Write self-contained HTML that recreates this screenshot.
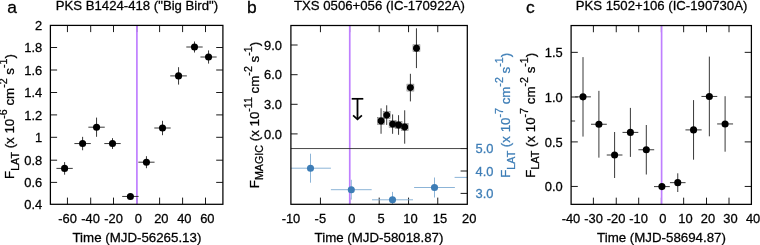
<!DOCTYPE html>
<html lang="en"><head><meta charset="utf-8"><title>Figure</title>
<style>
html,body{margin:0;padding:0;background:#fff;}
body{width:760px;height:245px;overflow:hidden;}
svg{display:block;font-family:'Liberation Sans', Arial, Helvetica, sans-serif;}
text{stroke-width:0.27px;paint-order:stroke fill;}
</style></head><body>
<svg width="760" height="245" viewBox="0 0 760 245">
<rect x="0" y="0" width="760" height="245" fill="#fff"/>
<defs>
<clipPath id="ca"><rect x="50.4" y="25.4" width="172.50" height="178.90"/></clipPath>
<clipPath id="cb"><rect x="290.9" y="25.5" width="176.40" height="178.80"/></clipPath>
<clipPath id="cc"><rect x="571.1" y="25.55" width="180.30" height="178.80"/></clipPath>
</defs>
<line x1="67.45" y1="204.30" x2="67.45" y2="197.60" stroke="#000" stroke-width="0.9" />
<line x1="67.45" y1="25.40" x2="67.45" y2="32.10" stroke="#000" stroke-width="0.9" />
<text x="67.55" y="222.50" font-size="12.9" text-anchor="middle" fill="#000" stroke="#000" >-60</text>
<line x1="90.70" y1="204.30" x2="90.70" y2="197.60" stroke="#000" stroke-width="0.9" />
<line x1="90.70" y1="25.40" x2="90.70" y2="32.10" stroke="#000" stroke-width="0.9" />
<text x="90.55" y="222.50" font-size="12.9" text-anchor="middle" fill="#000" stroke="#000" >-40</text>
<line x1="113.50" y1="204.30" x2="113.50" y2="197.60" stroke="#000" stroke-width="0.9" />
<line x1="113.50" y1="25.40" x2="113.50" y2="32.10" stroke="#000" stroke-width="0.9" />
<text x="113.55" y="222.50" font-size="12.9" text-anchor="middle" fill="#000" stroke="#000" >-20</text>
<line x1="136.90" y1="204.30" x2="136.90" y2="197.60" stroke="#000" stroke-width="0.9" />
<line x1="136.90" y1="25.40" x2="136.90" y2="32.10" stroke="#000" stroke-width="0.9" />
<text x="138.30" y="222.50" font-size="12.9" text-anchor="middle" fill="#000" stroke="#000" >0</text>
<line x1="159.60" y1="204.30" x2="159.60" y2="197.60" stroke="#000" stroke-width="0.9" />
<line x1="159.60" y1="25.40" x2="159.60" y2="32.10" stroke="#000" stroke-width="0.9" />
<text x="161.30" y="222.50" font-size="12.9" text-anchor="middle" fill="#000" stroke="#000" >20</text>
<line x1="182.60" y1="204.30" x2="182.60" y2="197.60" stroke="#000" stroke-width="0.9" />
<line x1="182.60" y1="25.40" x2="182.60" y2="32.10" stroke="#000" stroke-width="0.9" />
<text x="184.30" y="222.50" font-size="12.9" text-anchor="middle" fill="#000" stroke="#000" >40</text>
<line x1="205.50" y1="204.30" x2="205.50" y2="197.60" stroke="#000" stroke-width="0.9" />
<line x1="205.50" y1="25.40" x2="205.50" y2="32.10" stroke="#000" stroke-width="0.9" />
<text x="207.30" y="222.50" font-size="12.9" text-anchor="middle" fill="#000" stroke="#000" >60</text>
<text x="42.20" y="208.92" font-size="12.9" text-anchor="end" fill="#000" stroke="#000" >0.4</text>
<line x1="50.40" y1="182.40" x2="57.10" y2="182.40" stroke="#000" stroke-width="0.9" />
<line x1="222.90" y1="182.40" x2="216.20" y2="182.40" stroke="#000" stroke-width="0.9" />
<text x="42.20" y="187.02" font-size="12.9" text-anchor="end" fill="#000" stroke="#000" >0.6</text>
<line x1="50.40" y1="160.20" x2="57.10" y2="160.20" stroke="#000" stroke-width="0.9" />
<line x1="222.90" y1="160.20" x2="216.20" y2="160.20" stroke="#000" stroke-width="0.9" />
<text x="42.20" y="164.82" font-size="12.9" text-anchor="end" fill="#000" stroke="#000" >0.8</text>
<line x1="50.40" y1="137.30" x2="57.10" y2="137.30" stroke="#000" stroke-width="0.9" />
<line x1="222.90" y1="137.30" x2="216.20" y2="137.30" stroke="#000" stroke-width="0.9" />
<text x="42.20" y="141.92" font-size="12.9" text-anchor="end" fill="#000" stroke="#000" >1</text>
<line x1="50.40" y1="114.90" x2="57.10" y2="114.90" stroke="#000" stroke-width="0.9" />
<line x1="222.90" y1="114.90" x2="216.20" y2="114.90" stroke="#000" stroke-width="0.9" />
<text x="42.20" y="119.52" font-size="12.9" text-anchor="end" fill="#000" stroke="#000" >1.2</text>
<line x1="50.40" y1="92.50" x2="57.10" y2="92.50" stroke="#000" stroke-width="0.9" />
<line x1="222.90" y1="92.50" x2="216.20" y2="92.50" stroke="#000" stroke-width="0.9" />
<text x="42.20" y="97.12" font-size="12.9" text-anchor="end" fill="#000" stroke="#000" >1.4</text>
<line x1="50.40" y1="70.00" x2="57.10" y2="70.00" stroke="#000" stroke-width="0.9" />
<line x1="222.90" y1="70.00" x2="216.20" y2="70.00" stroke="#000" stroke-width="0.9" />
<text x="42.20" y="74.62" font-size="12.9" text-anchor="end" fill="#000" stroke="#000" >1.6</text>
<line x1="50.40" y1="47.50" x2="57.10" y2="47.50" stroke="#000" stroke-width="0.9" />
<line x1="222.90" y1="47.50" x2="216.20" y2="47.50" stroke="#000" stroke-width="0.9" />
<text x="42.20" y="52.12" font-size="12.9" text-anchor="end" fill="#000" stroke="#000" >1.8</text>
<text x="42.20" y="30.02" font-size="12.9" text-anchor="end" fill="#000" stroke="#000" >2</text>
<line x1="136.90" y1="25.40" x2="136.90" y2="204.30" stroke="#bf7fff" stroke-width="1.7" />
<g clip-path="url(#ca)">
<line x1="56.45" y1="168.40" x2="72.75" y2="168.40" stroke="#222" stroke-width="0.9" />
<line x1="64.60" y1="162.10" x2="64.60" y2="174.70" stroke="#222" stroke-width="0.9" />
<circle cx="64.60" cy="168.40" r="3.55" fill="#000"/>
</g>
<g clip-path="url(#ca)">
<line x1="74.40" y1="143.55" x2="90.80" y2="143.55" stroke="#222" stroke-width="0.9" />
<line x1="82.60" y1="136.85" x2="82.60" y2="150.25" stroke="#222" stroke-width="0.9" />
<circle cx="82.60" cy="143.55" r="3.55" fill="#000"/>
</g>
<g clip-path="url(#ca)">
<line x1="88.35" y1="127.20" x2="104.75" y2="127.20" stroke="#222" stroke-width="0.9" />
<line x1="96.55" y1="117.60" x2="96.55" y2="136.80" stroke="#222" stroke-width="0.9" />
<circle cx="96.55" cy="127.20" r="3.55" fill="#000"/>
</g>
<g clip-path="url(#ca)">
<line x1="104.30" y1="143.55" x2="120.70" y2="143.55" stroke="#222" stroke-width="0.9" />
<line x1="112.50" y1="138.15" x2="112.50" y2="148.95" stroke="#222" stroke-width="0.9" />
<circle cx="112.50" cy="143.55" r="3.55" fill="#000"/>
</g>
<g clip-path="url(#ca)">
<line x1="122.20" y1="196.45" x2="138.60" y2="196.45" stroke="#222" stroke-width="0.9" />
<circle cx="130.40" cy="196.45" r="3.55" fill="#000"/>
</g>
<g clip-path="url(#ca)">
<line x1="138.35" y1="162.20" x2="154.55" y2="162.20" stroke="#222" stroke-width="0.9" />
<line x1="146.45" y1="156.20" x2="146.45" y2="168.20" stroke="#222" stroke-width="0.9" />
<circle cx="146.45" cy="162.20" r="3.55" fill="#000"/>
</g>
<g clip-path="url(#ca)">
<line x1="154.30" y1="128.00" x2="170.70" y2="128.00" stroke="#222" stroke-width="0.9" />
<line x1="162.50" y1="120.80" x2="162.50" y2="135.20" stroke="#222" stroke-width="0.9" />
<circle cx="162.50" cy="128.00" r="3.55" fill="#000"/>
</g>
<g clip-path="url(#ca)">
<line x1="170.25" y1="75.90" x2="186.85" y2="75.90" stroke="#222" stroke-width="0.9" />
<line x1="178.55" y1="67.20" x2="178.55" y2="84.60" stroke="#222" stroke-width="0.9" />
<circle cx="178.55" cy="75.90" r="3.55" fill="#000"/>
</g>
<g clip-path="url(#ca)">
<line x1="186.30" y1="47.00" x2="202.70" y2="47.00" stroke="#222" stroke-width="0.9" />
<line x1="194.50" y1="41.50" x2="194.50" y2="52.50" stroke="#222" stroke-width="0.9" />
<circle cx="194.50" cy="47.00" r="3.55" fill="#000"/>
</g>
<g clip-path="url(#ca)">
<line x1="200.45" y1="57.00" x2="216.65" y2="57.00" stroke="#222" stroke-width="0.9" />
<line x1="208.55" y1="50.40" x2="208.55" y2="63.60" stroke="#222" stroke-width="0.9" />
<circle cx="208.55" cy="57.00" r="3.55" fill="#000"/>
</g>
<rect x="50.40" y="25.40" width="172.50" height="178.90" fill="none" stroke="#000" stroke-width="1.25"/>
<text x="136.90" y="9.90" font-size="13.18" text-anchor="middle" fill="#000" stroke="#000" >PKS B1424-418 ("Big Bird")</text>
<text x="136.90" y="241.70" font-size="13.3" text-anchor="middle" fill="#000" stroke="#000" >Time (MJD-56265.13)</text>
<text x="7.20" y="13.30" font-size="17.4" text-anchor="start" fill="#000" stroke="#000" >a</text>
<text transform="translate(14.30,116.50) rotate(-90)" font-size="13.3" text-anchor="middle" fill="#000" stroke="#000">F<tspan font-size="10.7" dy="4.20">LAT</tspan><tspan dy="-4.20"> (x 10</tspan><tspan font-size="10.7" dy="-7.00">-6</tspan><tspan dy="7.00"> cm</tspan><tspan font-size="10.7" dy="-7.00">-2</tspan><tspan dy="7.00"> s</tspan><tspan font-size="10.7" dy="-7.00">-1</tspan><tspan dy="7.00">)</tspan></text>
<text x="290.97" y="222.50" font-size="12.9" text-anchor="middle" fill="#000" stroke="#000" >-10</text>
<line x1="320.45" y1="204.30" x2="320.45" y2="197.60" stroke="#000" stroke-width="0.9" />
<line x1="320.45" y1="25.50" x2="320.45" y2="32.20" stroke="#000" stroke-width="0.9" />
<text x="320.34" y="222.50" font-size="12.9" text-anchor="middle" fill="#000" stroke="#000" >-5</text>
<line x1="349.70" y1="204.30" x2="349.70" y2="197.60" stroke="#000" stroke-width="0.9" />
<line x1="349.70" y1="25.50" x2="349.70" y2="32.20" stroke="#000" stroke-width="0.9" />
<text x="351.80" y="222.50" font-size="12.9" text-anchor="middle" fill="#000" stroke="#000" >0</text>
<line x1="379.20" y1="204.30" x2="379.20" y2="197.60" stroke="#000" stroke-width="0.9" />
<line x1="379.20" y1="25.50" x2="379.20" y2="32.20" stroke="#000" stroke-width="0.9" />
<text x="381.17" y="222.50" font-size="12.9" text-anchor="middle" fill="#000" stroke="#000" >5</text>
<line x1="408.55" y1="204.30" x2="408.55" y2="197.60" stroke="#000" stroke-width="0.9" />
<line x1="408.55" y1="25.50" x2="408.55" y2="32.20" stroke="#000" stroke-width="0.9" />
<text x="410.53" y="222.50" font-size="12.9" text-anchor="middle" fill="#000" stroke="#000" >10</text>
<line x1="437.75" y1="204.30" x2="437.75" y2="197.60" stroke="#000" stroke-width="0.9" />
<line x1="437.75" y1="25.50" x2="437.75" y2="32.20" stroke="#000" stroke-width="0.9" />
<text x="439.90" y="222.50" font-size="12.9" text-anchor="middle" fill="#000" stroke="#000" >15</text>
<text x="469.26" y="222.50" font-size="12.9" text-anchor="middle" fill="#000" stroke="#000" >20</text>
<line x1="290.90" y1="133.90" x2="297.60" y2="133.90" stroke="#000" stroke-width="0.9" />
<text x="281.90" y="138.52" font-size="12.9" text-anchor="end" fill="#000" stroke="#000" >0.0</text>
<line x1="290.90" y1="104.30" x2="297.60" y2="104.30" stroke="#000" stroke-width="0.9" />
<text x="281.90" y="108.92" font-size="12.9" text-anchor="end" fill="#000" stroke="#000" >3.0</text>
<line x1="290.90" y1="74.70" x2="297.60" y2="74.70" stroke="#000" stroke-width="0.9" />
<text x="281.90" y="79.32" font-size="12.9" text-anchor="end" fill="#000" stroke="#000" >6.0</text>
<line x1="290.90" y1="45.00" x2="297.60" y2="45.00" stroke="#000" stroke-width="0.9" />
<text x="281.90" y="49.62" font-size="12.9" text-anchor="end" fill="#000" stroke="#000" >9.0</text>
<line x1="467.30" y1="148.55" x2="460.60" y2="148.55" stroke="#000" stroke-width="0.9" />
<text x="475.60" y="153.17" font-size="12.9" text-anchor="start" fill="#3d7db6" stroke="#3d7db6" >5.0</text>
<line x1="467.30" y1="171.00" x2="460.60" y2="171.00" stroke="#000" stroke-width="0.9" />
<text x="475.60" y="175.62" font-size="12.9" text-anchor="start" fill="#3d7db6" stroke="#3d7db6" >4.0</text>
<line x1="467.30" y1="193.40" x2="460.60" y2="193.40" stroke="#000" stroke-width="0.9" />
<text x="475.60" y="198.02" font-size="12.9" text-anchor="start" fill="#3d7db6" stroke="#3d7db6" >3.0</text>
<line x1="349.75" y1="25.50" x2="349.75" y2="204.30" stroke="#bf7fff" stroke-width="1.7" />
<g clip-path="url(#cb)">
<line x1="290.10" y1="168.20" x2="330.90" y2="168.20" stroke="#7fabd3" stroke-width="0.9" />
<line x1="310.50" y1="153.70" x2="310.50" y2="182.70" stroke="#7fabd3" stroke-width="0.9" />
<circle cx="310.50" cy="168.20" r="3.55" fill="#3d7db6"/>
</g>
<g clip-path="url(#cb)">
<line x1="330.90" y1="189.70" x2="371.70" y2="189.70" stroke="#7fabd3" stroke-width="0.9" />
<line x1="351.30" y1="179.80" x2="351.30" y2="199.60" stroke="#7fabd3" stroke-width="0.9" />
<circle cx="351.30" cy="189.70" r="3.55" fill="#3d7db6"/>
</g>
<g clip-path="url(#cb)">
<line x1="372.00" y1="199.80" x2="413.00" y2="199.80" stroke="#7fabd3" stroke-width="0.9" />
<line x1="392.50" y1="191.90" x2="392.50" y2="207.70" stroke="#7fabd3" stroke-width="0.9" />
<circle cx="392.50" cy="199.80" r="3.55" fill="#3d7db6"/>
</g>
<g clip-path="url(#cb)">
<line x1="414.10" y1="187.50" x2="454.90" y2="187.50" stroke="#7fabd3" stroke-width="0.9" />
<line x1="434.50" y1="177.50" x2="434.50" y2="197.50" stroke="#7fabd3" stroke-width="0.9" />
<circle cx="434.50" cy="187.50" r="3.55" fill="#3d7db6"/>
</g>
<g clip-path="url(#cb)">
<line x1="454.60" y1="177.40" x2="480.00" y2="177.40" stroke="#7fabd3" stroke-width="0.9" />
</g>
<line x1="290.90" y1="148.55" x2="467.30" y2="148.55" stroke="#333" stroke-width="0.9" />
<line x1="381.05" y1="108.35" x2="381.05" y2="133.75" stroke="#222" stroke-width="0.9" />
<rect x="377.60" y="117.60" width="6.9" height="6.9" fill="none" stroke="#000" stroke-opacity="0.55" stroke-width="0.6"/>
<circle cx="381.05" cy="121.05" r="3.45" fill="#000"/>
<line x1="386.70" y1="105.30" x2="386.70" y2="124.90" stroke="#222" stroke-width="0.9" />
<rect x="383.25" y="111.65" width="6.9" height="6.9" fill="none" stroke="#000" stroke-opacity="0.55" stroke-width="0.6"/>
<circle cx="386.70" cy="115.10" r="3.45" fill="#000"/>
<line x1="392.60" y1="114.40" x2="392.60" y2="133.80" stroke="#222" stroke-width="0.9" />
<rect x="389.15" y="120.65" width="6.9" height="6.9" fill="none" stroke="#000" stroke-opacity="0.55" stroke-width="0.6"/>
<circle cx="392.60" cy="124.10" r="3.45" fill="#000"/>
<line x1="398.55" y1="115.20" x2="398.55" y2="134.80" stroke="#222" stroke-width="0.9" />
<rect x="395.10" y="121.55" width="6.9" height="6.9" fill="none" stroke="#000" stroke-opacity="0.55" stroke-width="0.6"/>
<circle cx="398.55" cy="125.00" r="3.45" fill="#000"/>
<line x1="404.70" y1="110.30" x2="404.70" y2="143.70" stroke="#222" stroke-width="0.9" />
<rect x="401.25" y="123.55" width="6.9" height="6.9" fill="none" stroke="#000" stroke-opacity="0.55" stroke-width="0.6"/>
<circle cx="404.70" cy="127.00" r="3.45" fill="#000"/>
<line x1="410.40" y1="73.80" x2="410.40" y2="101.40" stroke="#222" stroke-width="0.9" />
<rect x="406.95" y="84.15" width="6.9" height="6.9" fill="none" stroke="#000" stroke-opacity="0.55" stroke-width="0.6"/>
<circle cx="410.40" cy="87.60" r="3.45" fill="#000"/>
<line x1="416.45" y1="28.30" x2="416.45" y2="68.10" stroke="#222" stroke-width="0.9" />
<rect x="413.00" y="44.75" width="6.9" height="6.9" fill="none" stroke="#000" stroke-opacity="0.55" stroke-width="0.6"/>
<circle cx="416.45" cy="48.20" r="3.45" fill="#000"/>
<line x1="351.70" y1="98.80" x2="363.30" y2="98.80" stroke="#000" stroke-width="1.7" />
<line x1="357.50" y1="98.80" x2="357.50" y2="118.60" stroke="#000" stroke-width="1.8" />
<polyline points="353.10,115.30 357.50,119.30 361.90,115.30" fill="none" stroke="#000" stroke-width="1.7" stroke-linejoin="miter"/>
<rect x="290.90" y="25.50" width="176.40" height="178.80" fill="none" stroke="#000" stroke-width="1.25"/>
<text x="379.50" y="9.90" font-size="13.18" text-anchor="middle" fill="#000" stroke="#000" >TXS 0506+056 (IC-170922A)</text>
<text x="379.00" y="241.70" font-size="13.3" text-anchor="middle" fill="#000" stroke="#000" >Time (MJD-58018.87)</text>
<text x="247.00" y="13.30" font-size="17.4" text-anchor="start" fill="#000" stroke="#000" >b</text>
<text transform="translate(259.00,115.00) rotate(-90)" font-size="13.3" text-anchor="middle" fill="#000" stroke="#000">F<tspan font-size="10.7" dy="4.20">MAGIC</tspan><tspan dy="-4.20"> (x 10</tspan><tspan font-size="10.7" dy="-7.00">-11</tspan><tspan dy="7.00"> cm</tspan><tspan font-size="10.7" dy="-7.00">-2</tspan><tspan dy="7.00"> s</tspan><tspan font-size="10.7" dy="-7.00">-1</tspan><tspan dy="7.00">)</tspan></text>
<text transform="translate(510.40,115.30) rotate(-90)" font-size="13.3" text-anchor="middle" fill="#3d7db6" stroke="#3d7db6">F<tspan font-size="10.7" dy="4.20">LAT</tspan><tspan dy="-4.20"> (x 10</tspan><tspan font-size="10.7" dy="-7.00">-7</tspan><tspan dy="7.00"> cm</tspan><tspan font-size="10.7" dy="-7.00">-2</tspan><tspan dy="7.00"> s</tspan><tspan font-size="10.7" dy="-7.00">-1</tspan><tspan dy="7.00">)</tspan></text>
<text x="570.99" y="222.50" font-size="12.9" text-anchor="middle" fill="#000" stroke="#000" >-40</text>
<line x1="593.40" y1="204.35" x2="593.40" y2="197.65" stroke="#000" stroke-width="0.9" />
<line x1="593.40" y1="25.55" x2="593.40" y2="32.25" stroke="#000" stroke-width="0.9" />
<text x="593.53" y="222.50" font-size="12.9" text-anchor="middle" fill="#000" stroke="#000" >-30</text>
<line x1="616.25" y1="204.35" x2="616.25" y2="197.65" stroke="#000" stroke-width="0.9" />
<line x1="616.25" y1="25.55" x2="616.25" y2="32.25" stroke="#000" stroke-width="0.9" />
<text x="616.07" y="222.50" font-size="12.9" text-anchor="middle" fill="#000" stroke="#000" >-20</text>
<line x1="638.70" y1="204.35" x2="638.70" y2="197.65" stroke="#000" stroke-width="0.9" />
<line x1="638.70" y1="25.55" x2="638.70" y2="32.25" stroke="#000" stroke-width="0.9" />
<text x="638.61" y="222.50" font-size="12.9" text-anchor="middle" fill="#000" stroke="#000" >-10</text>
<line x1="661.40" y1="204.35" x2="661.40" y2="197.65" stroke="#000" stroke-width="0.9" />
<line x1="661.40" y1="25.55" x2="661.40" y2="32.25" stroke="#000" stroke-width="0.9" />
<text x="662.90" y="222.50" font-size="12.9" text-anchor="middle" fill="#000" stroke="#000" >0</text>
<line x1="683.65" y1="204.35" x2="683.65" y2="197.65" stroke="#000" stroke-width="0.9" />
<line x1="683.65" y1="25.55" x2="683.65" y2="32.25" stroke="#000" stroke-width="0.9" />
<text x="685.44" y="222.50" font-size="12.9" text-anchor="middle" fill="#000" stroke="#000" >10</text>
<line x1="706.50" y1="204.35" x2="706.50" y2="197.65" stroke="#000" stroke-width="0.9" />
<line x1="706.50" y1="25.55" x2="706.50" y2="32.25" stroke="#000" stroke-width="0.9" />
<text x="707.98" y="222.50" font-size="12.9" text-anchor="middle" fill="#000" stroke="#000" >20</text>
<line x1="729.00" y1="204.35" x2="729.00" y2="197.65" stroke="#000" stroke-width="0.9" />
<line x1="729.00" y1="25.55" x2="729.00" y2="32.25" stroke="#000" stroke-width="0.9" />
<text x="730.52" y="222.50" font-size="12.9" text-anchor="middle" fill="#000" stroke="#000" >30</text>
<text x="753.06" y="222.50" font-size="12.9" text-anchor="middle" fill="#000" stroke="#000" >40</text>
<line x1="571.10" y1="186.45" x2="577.80" y2="186.45" stroke="#000" stroke-width="0.9" />
<line x1="751.40" y1="186.45" x2="744.70" y2="186.45" stroke="#000" stroke-width="0.9" />
<text x="562.70" y="191.07" font-size="12.9" text-anchor="end" fill="#000" stroke="#000" >0.0</text>
<line x1="571.10" y1="141.90" x2="577.80" y2="141.90" stroke="#000" stroke-width="0.9" />
<line x1="751.40" y1="141.90" x2="744.70" y2="141.90" stroke="#000" stroke-width="0.9" />
<text x="562.70" y="146.52" font-size="12.9" text-anchor="end" fill="#000" stroke="#000" >0.5</text>
<line x1="571.10" y1="97.00" x2="577.80" y2="97.00" stroke="#000" stroke-width="0.9" />
<line x1="751.40" y1="97.00" x2="744.70" y2="97.00" stroke="#000" stroke-width="0.9" />
<text x="562.70" y="101.62" font-size="12.9" text-anchor="end" fill="#000" stroke="#000" >1.0</text>
<line x1="571.10" y1="52.35" x2="577.80" y2="52.35" stroke="#000" stroke-width="0.9" />
<line x1="751.40" y1="52.35" x2="744.70" y2="52.35" stroke="#000" stroke-width="0.9" />
<text x="562.70" y="56.97" font-size="12.9" text-anchor="end" fill="#000" stroke="#000" >1.5</text>
<line x1="661.60" y1="25.55" x2="661.60" y2="204.35" stroke="#bf7fff" stroke-width="1.7" />
<g clip-path="url(#cc)">
<line x1="559.30" y1="121.00" x2="575.10" y2="121.00" stroke="#222" stroke-width="0.9" />
<circle cx="567.20" cy="121.00" r="3.55" fill="#000"/>
</g>
<g clip-path="url(#cc)">
<line x1="575.10" y1="96.85" x2="590.90" y2="96.85" stroke="#222" stroke-width="0.9" />
<line x1="583.00" y1="57.10" x2="583.00" y2="136.60" stroke="#222" stroke-width="0.9" />
<circle cx="583.00" cy="96.85" r="3.55" fill="#000"/>
</g>
<g clip-path="url(#cc)">
<line x1="591.00" y1="124.25" x2="606.80" y2="124.25" stroke="#222" stroke-width="0.9" />
<line x1="598.90" y1="90.85" x2="598.90" y2="157.65" stroke="#222" stroke-width="0.9" />
<circle cx="598.90" cy="124.25" r="3.55" fill="#000"/>
</g>
<g clip-path="url(#cc)">
<line x1="606.75" y1="155.00" x2="622.45" y2="155.00" stroke="#222" stroke-width="0.9" />
<line x1="614.60" y1="132.00" x2="614.60" y2="178.00" stroke="#222" stroke-width="0.9" />
<circle cx="614.60" cy="155.00" r="3.55" fill="#000"/>
</g>
<g clip-path="url(#cc)">
<line x1="622.50" y1="132.40" x2="638.30" y2="132.40" stroke="#222" stroke-width="0.9" />
<line x1="630.40" y1="107.90" x2="630.40" y2="156.90" stroke="#222" stroke-width="0.9" />
<circle cx="630.40" cy="132.40" r="3.55" fill="#000"/>
</g>
<g clip-path="url(#cc)">
<line x1="638.40" y1="149.75" x2="654.20" y2="149.75" stroke="#222" stroke-width="0.9" />
<line x1="646.30" y1="125.00" x2="646.30" y2="174.50" stroke="#222" stroke-width="0.9" />
<circle cx="646.30" cy="149.75" r="3.55" fill="#000"/>
</g>
<g clip-path="url(#cc)">
<line x1="654.00" y1="186.60" x2="669.80" y2="186.60" stroke="#222" stroke-width="0.9" />
<circle cx="661.90" cy="186.60" r="3.55" fill="#000"/>
</g>
<g clip-path="url(#cc)">
<line x1="669.95" y1="182.65" x2="685.55" y2="182.65" stroke="#222" stroke-width="0.9" />
<line x1="677.75" y1="173.30" x2="677.75" y2="192.00" stroke="#222" stroke-width="0.9" />
<circle cx="677.75" cy="182.65" r="3.55" fill="#000"/>
</g>
<g clip-path="url(#cc)">
<line x1="685.45" y1="129.90" x2="701.65" y2="129.90" stroke="#222" stroke-width="0.9" />
<line x1="693.55" y1="100.10" x2="693.55" y2="159.70" stroke="#222" stroke-width="0.9" />
<circle cx="693.55" cy="129.90" r="3.55" fill="#000"/>
</g>
<g clip-path="url(#cc)">
<line x1="701.45" y1="96.45" x2="717.25" y2="96.45" stroke="#222" stroke-width="0.9" />
<line x1="709.35" y1="56.60" x2="709.35" y2="136.30" stroke="#222" stroke-width="0.9" />
<circle cx="709.35" cy="96.45" r="3.55" fill="#000"/>
</g>
<g clip-path="url(#cc)">
<line x1="717.15" y1="123.95" x2="733.05" y2="123.95" stroke="#222" stroke-width="0.9" />
<line x1="725.10" y1="96.20" x2="725.10" y2="151.70" stroke="#222" stroke-width="0.9" />
<circle cx="725.10" cy="123.95" r="3.55" fill="#000"/>
</g>
<rect x="571.10" y="25.55" width="180.30" height="178.80" fill="none" stroke="#000" stroke-width="1.25"/>
<text x="661.50" y="9.90" font-size="13.18" text-anchor="middle" fill="#000" stroke="#000" >PKS 1502+106 (IC-190730A)</text>
<text x="661.50" y="241.70" font-size="13.3" text-anchor="middle" fill="#000" stroke="#000" >Time (MJD-58694.87)</text>
<text x="526.00" y="13.30" font-size="17.4" text-anchor="start" fill="#000" stroke="#000" >c</text>
<text transform="translate(534.70,115.20) rotate(-90)" font-size="13.3" text-anchor="middle" fill="#000" stroke="#000">F<tspan font-size="10.7" dy="4.20">LAT</tspan><tspan dy="-4.20"> (x 10</tspan><tspan font-size="10.7" dy="-7.00">-7</tspan><tspan dy="7.00"> cm</tspan><tspan font-size="10.7" dy="-7.00">-2</tspan><tspan dy="7.00"> s</tspan><tspan font-size="10.7" dy="-7.00">-1</tspan><tspan dy="7.00">)</tspan></text>
</svg></body></html>
